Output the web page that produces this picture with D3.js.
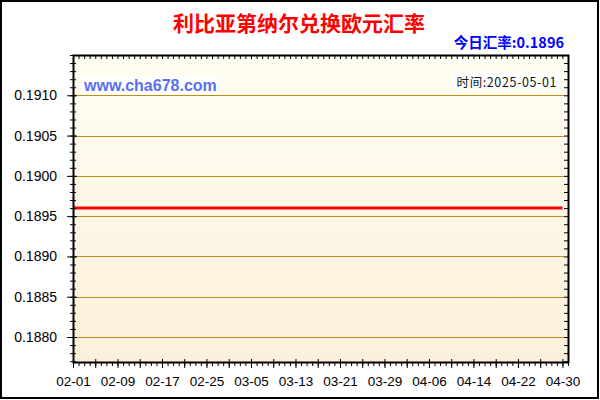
<!DOCTYPE html>
<html>
<head>
<meta charset="utf-8">
<script src="https://cdn.jsdelivr.net/npm/d3@7"></script>
<style>
  body { margin: 0; background: #fff; }
  svg { display: block; }
</style>
</head>
<body>
<div id="chart"></div>
<script>
const title = "利比亚第纳尔兑换欧元汇率";
const todayLabel = "今日汇率:0.1896";
const timeLabel = "时间:2025-05-01";
const siteLabel = "www.cha678.com";

// series: daily rate, flat over the period
const dates = ["2025-02-01", "2025-02-15", "2025-03-01", "2025-03-15", "2025-04-01", "2025-04-15", "2025-04-30"];
const rates = [0.1896, 0.1896, 0.1896, 0.1896, 0.1896, 0.1896, 0.1896];

const yTicks = [0.1880, 0.1885, 0.1890, 0.1895, 0.1900, 0.1905, 0.1910];
const xTickLabels = ["02-01", "02-09", "02-17", "02-25", "03-05", "03-13", "03-21", "03-29", "04-06", "04-14", "04-22", "04-30"];

const width = 600, height = 400;
const margin = { top: 55, right: 32, bottom: 38, left: 73 };
const parse = d3.timeParse("%Y-%m-%d");
const data = dates.map((d, i) => ({ date: parse(d), value: rates[i] }));

const svg = d3.select("#chart").append("svg")
    .attr("width", width)
    .attr("height", height);

// outer frame
svg.append("rect")
    .attr("x", 1).attr("y", 1)
    .attr("width", width - 3).attr("height", height - 3)
    .attr("fill", "#fff")
    .attr("stroke", "#000")
    .attr("stroke-width", 2);

const x = d3.scaleTime()
    .domain([parse("2025-02-01"), parse("2025-05-01")])
    .range([margin.left, width - margin.right]);

const y = d3.scaleLinear()
    .domain([0.18769, 0.19150])
    .range([height - margin.bottom, margin.top]);

// background gradient
const grad = svg.append("defs").append("linearGradient")
    .attr("id", "bg").attr("x1", 0).attr("y1", 0).attr("x2", 0).attr("y2", 1);
grad.append("stop").attr("offset", "0%").attr("stop-color", "#fffef3");
grad.append("stop").attr("offset", "100%").attr("stop-color", "#fcf0da");

svg.append("rect")
    .attr("x", margin.left).attr("y", margin.top)
    .attr("width", width - margin.right - margin.left)
    .attr("height", height - margin.bottom - margin.top)
    .attr("fill", "url(#bg)");

// horizontal grid lines
svg.append("g")
    .selectAll("line")
    .data(yTicks)
    .join("line")
    .attr("x1", margin.left).attr("x2", width - margin.right - 4)
    .attr("y1", d => Math.round(y(d)) + 0.5).attr("y2", d => Math.round(y(d)) + 0.5)
    .attr("stroke", "#bf8c1e")
    .attr("stroke-width", 1);

// watermark & time labels with white boxes
function boxedText(tx, ty, txt, anchor, style) {
    const g = svg.append("g");
    const t = g.append("text")
        .attr("x", tx).attr("y", ty)
        .attr("text-anchor", anchor)
        .text(txt);
    Object.entries(style).forEach(([k, v]) => t.style(k, v));
    const b = t.node().getBBox();
    g.insert("rect", "text")
        .attr("x", b.x - 2).attr("y", b.y)
        .attr("width", b.width + 4).attr("height", b.height)
        .attr("fill", "#fff");
}
boxedText(84, 91, siteLabel, "start", {
    "font-family": "Arial, 'Liberation Sans', sans-serif",
    "font-size": "16px", "font-weight": "bold", "fill": "#5a6ff0"
});
boxedText(557, 87, timeLabel, "end", {
    "font-family": "'Noto Sans CJK SC', sans-serif",
    "font-size": "12.5px", "fill": "#111", "letter-spacing": "0.6px"
});

// rate line
const line = d3.line()
    .x(d => x(d.date))
    .y(d => y(d.value));

svg.append("path")
    .datum(data)
    .attr("d", line)
    .attr("fill", "none")
    .attr("stroke", "#ff0000")
    .attr("stroke-width", 3);

// axes
const dayTicks = d3.timeDay.range(parse("2025-02-01"), d3.timeDay.offset(parse("2025-05-01"), 1));
const majorX = dayTicks.filter((d, i) => i % 4 === 0);
const labelX = dayTicks.filter((d, i) => i % 8 === 0);
const minorY = d3.range(18769, 19151).filter(v => v % 10 === 0).map(v => v / 100000);

const axisFont = "Arial, 'Liberation Sans', sans-serif";

// bottom: minor daily ticks
svg.append("g")
    .attr("transform", `translate(0,${height - margin.bottom})`)
    .call(d3.axisBottom(x).tickValues(dayTicks).tickSize(4).tickFormat(""))
    .call(g => g.select(".domain").remove());
svg.append("g")
    .attr("transform", `translate(0,${height - margin.bottom - 3})`)
    .call(d3.axisBottom(x).tickValues(majorX).tickSize(9).tickFormat(""))
    .call(g => g.select(".domain").remove());
svg.append("g")
    .attr("transform", `translate(0,${height - margin.bottom})`)
    .call(d3.axisBottom(x).tickValues(labelX).tickSize(0).tickPadding(14)
        .tickFormat(d3.timeFormat("%m-%d")))
    .call(g => g.select(".domain").remove())
    .selectAll("text")
    .attr("font-family", axisFont)
    .attr("font-size", "13.5px")
    .attr("fill", "#000");

// top: daily ticks pointing inward
svg.append("g")
    .attr("transform", `translate(0,${margin.top})`)
    .call(d3.axisBottom(x).tickValues(dayTicks).tickSize(4).tickFormat(""))
    .call(g => g.select(".domain").remove());

// left
svg.append("g")
    .attr("transform", `translate(${margin.left + 3},0)`)
    .call(d3.axisLeft(y).tickValues(minorY).tickSize(6).tickFormat(""))
    .call(g => g.select(".domain").remove());
svg.append("g")
    .attr("transform", `translate(${margin.left + 4},0)`)
    .call(d3.axisLeft(y).tickValues(yTicks).tickSize(10).tickPadding(10)
        .tickFormat(d3.format(".4f")))
    .call(g => g.select(".domain").remove())
    .selectAll("text")
    .attr("font-family", axisFont)
    .attr("font-size", "14px")
    .attr("fill", "#000");

// right: ticks pointing inward
svg.append("g")
    .attr("transform", `translate(${width - margin.right},0)`)
    .call(d3.axisLeft(y).tickValues(minorY).tickSize(4).tickFormat(""))
    .call(g => g.select(".domain").remove());

svg.selectAll(".tick line").attr("stroke", "#000").attr("stroke-width", 1);

// plot frame
svg.append("rect")
    .attr("x", margin.left + 0.5).attr("y", margin.top + 0.5)
    .attr("width", width - margin.right - margin.left)
    .attr("height", height - margin.bottom - margin.top)
    .attr("fill", "none")
    .attr("stroke", "#000")
    .attr("stroke-width", 2);

// titles
svg.append("text")
    .attr("x", 299).attr("y", 31)
    .attr("text-anchor", "middle")
    .attr("font-family", "'Noto Sans CJK SC', sans-serif")
    .attr("font-size", "21px")
    .attr("font-weight", "bold")
    .attr("fill", "#ff0000")
    .text(title);

svg.append("text")
    .attr("x", 564).attr("y", 48)
    .attr("text-anchor", "end")
    .attr("font-family", "'Noto Sans CJK SC', sans-serif")
    .attr("font-size", "14.5px")
    .attr("font-weight", "bold")
    .attr("fill", "#0000ff")
    .text(todayLabel);
</script>
</body>
</html>
